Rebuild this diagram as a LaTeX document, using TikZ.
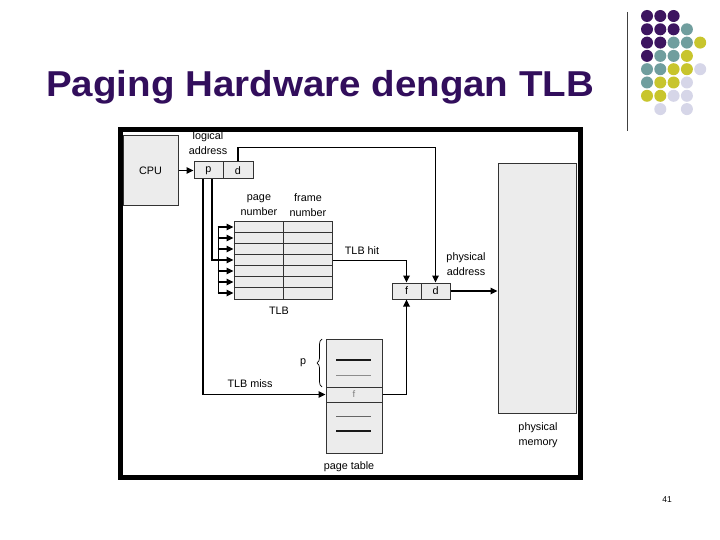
\documentclass[tikz,border=0pt]{standalone}
\usepackage{fontspec}
\setmainfont{Liberation Sans}
\usetikzlibrary{arrows.meta,decorations.pathreplacing,calc}
\definecolor{titlecol}{RGB}{50,14,92}
\definecolor{dP}{RGB}{61,21,96}
\definecolor{dT}{RGB}{112,158,158}
\definecolor{dY}{RGB}{200,197,45}
\definecolor{dL}{RGB}{214,214,232}
\definecolor{boxfill}{RGB}{236,236,236}
\tikzset{
  box/.style={draw=black!80, fill=boxfill, line width=1pt, inner sep=0pt},
  lbl/.style={font=\fontsize{10.8}{15}\selectfont, inner sep=0pt, align=center},
  conn/.style={line width=1.6pt},
  arr/.style={conn, -{Triangle[length=7pt,width=6.5pt]}},
  rowline/.style={line width=0.9pt, black!80},
}
\begin{document}
\begin{tikzpicture}[x=1pt,y=-1pt]
\useasboundingbox (0,0) rectangle (720,540);
\fill[white] (0,0) rectangle (720,540);

% title
\node[anchor=base west, inner sep=0pt, text=titlecol, font=\fontsize{36}{40}\selectfont\bfseries] (title) at (46,97) {\scalebox{1.07}[1]{Paging Hardware dengan TLB}};

% decoration: vertical line and dots
\draw[line width=1pt, black!75] (627,12) -- (627,131);
\foreach \c/\r/\col in {0/0/dP,1/0/dP,2/0/dP,
  0/1/dP,1/1/dP,2/1/dP,3/1/dT,
  0/2/dP,1/2/dP,2/2/dT,3/2/dT,4/2/dY,
  0/3/dP,1/3/dT,2/3/dT,3/3/dY,
  0/4/dT,1/4/dT,2/4/dY,3/4/dY,4/4/dL,
  0/5/dT,1/5/dY,2/5/dY,3/5/dL,
  0/6/dY,1/6/dY,2/6/dL,3/6/dL,
  1/7/dL,3/7/dL}
  \fill[\col] (647+13.3*\c,16+13.3*\r) circle (6pt);

\node[font=\fontsize{8.5}{9}\selectfont, inner sep=0pt] (pgnum) at (667,500) {41};

% CPU and logical address
\node[box, minimum width=55, minimum height=70, font=\fontsize{10.8}{12}\selectfont] (cpu) at (150.5,170.5) {CPU};
\node[box, minimum width=29, minimum height=17, font=\fontsize{10.8}{12}\selectfont] (lp) at (208.5,170.5) {p};
\node[box, minimum width=30, minimum height=17, font=\fontsize{10.8}{12}\selectfont] (ld) at (238,170.5) {d};
\node[lbl] (lalab) at (208,143.5) {logical\\address};
\draw[arr] (cpu.east) -- (lp.west);

% TLB
\node[box, minimum width=98, minimum height=77] (tlb) at (283,260.5) {};
\foreach \k in {1,...,6}
  \draw[rowline] ($(tlb.north west)+(0,11*\k)$) -- ($(tlb.north east)+(0,11*\k)$);
\draw[rowline] (tlb.north) -- (tlb.south);
\node[lbl] (pnlab) at (259,205.5) {page\\number};
\node[lbl] (fnlab) at (308,205.5) {frame\\number};
\node[lbl] (tlblab) at (279,311) {TLB};

% p lines to TLB rows
\draw[conn] ($(tlb.north west)+(-15,5.5)$) -- ($(tlb.north west)+(-15,71.5)$);
\foreach \k in {0,...,6}
  \draw[arr] ($(tlb.north west)+(-15.8,5.5+11*\k)$) -- ($(tlb.north west)+(0,5.5+11*\k)$);
\draw[conn] ($(lp.south)+(3.5,0)$) |- ($(tlb.north west)+(-15,38.5)$);

% physical address
\node[box, minimum width=29, minimum height=16, font=\fontsize{10.8}{12}\selectfont] (pf) at (406.5,291) {f};
\node[box, minimum width=29, minimum height=16, font=\fontsize{10.8}{12}\selectfont] (pd) at (435.5,291) {d};
\node[lbl] (palab) at (466,264.5) {physical\\address};
\draw[arr] (ld.north) -- ++(0,-14) -| (pd.north);
\draw[arr] (tlb.east) -| (pf.north);
\node[lbl] (hitlab) at (362,251) {TLB hit};

% physical memory
\node[box, minimum width=78, minimum height=249] (pm) at (537,288.5) {};
\node[lbl] (pmlab) at (538,435) {physical\\memory};
\draw[arr] (pd.east) -- (pd.east -| pm.west);

% page table
\node[box, minimum width=56, minimum height=114] (pt) at (354,396) {};
\node[box, minimum width=56, minimum height=15, text=black!50, font=\fontsize{9.5}{10}\selectfont] (pte) at (354,394.5) {f};
\draw[line width=1.5pt, black!90] (336,360) -- (371,360);
\draw[line width=0.8pt, black!45] (336,375) -- (371,375);
\draw[line width=0.8pt, black!60] (336,416) -- (371,416);
\draw[line width=1.5pt, black!90] (336,431) -- (371,431);
\node[lbl] (ptlab) at (349,467) {page table};
\draw[decorate, decoration={brace, amplitude=5pt}, line width=0.7pt] (322,387) -- (322,339);
\node[lbl] (plab) at (303,363) {p};

\draw[arr] ($(lp.south)+(-5.5,0)$) |- (pte.west);
\node[lbl] (misslab) at (250,384) {TLB miss};
\draw[arr] (pte.east) -| (pf.south);

% frame
\draw[line width=5pt] (120.5,129.5) rectangle (580.5,477.5);
\end{tikzpicture}
\end{document}
